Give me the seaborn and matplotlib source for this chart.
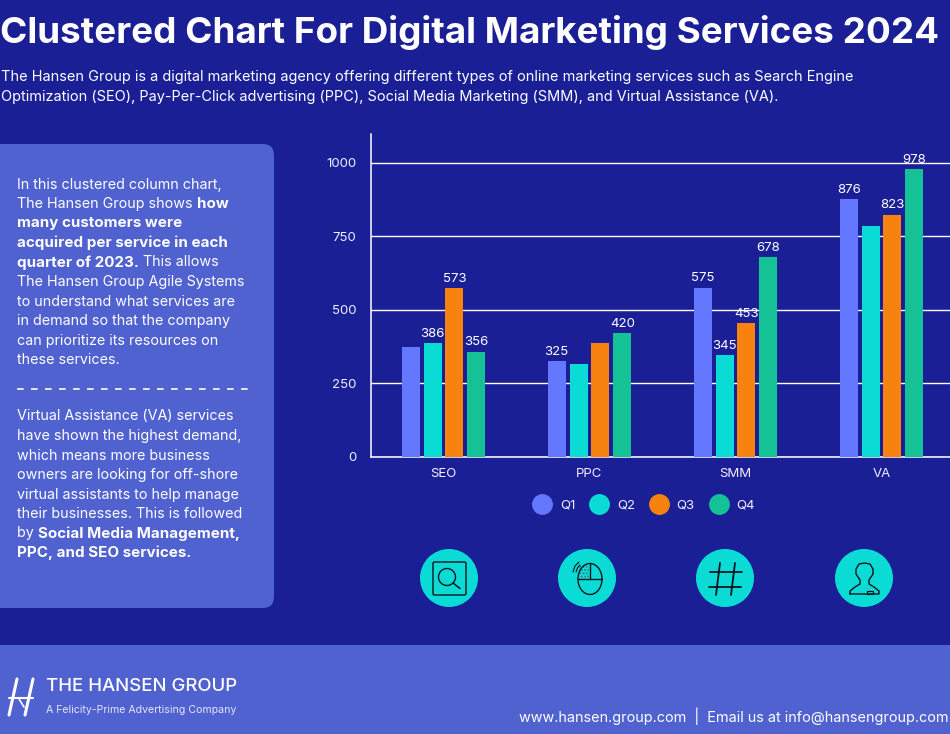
import pandas as pd
import seaborn as sns
import matplotlib
matplotlib.use('Agg')
import matplotlib.pyplot as plt
from matplotlib.lines import Line2D
from matplotlib.patches import Circle, Ellipse, FancyBboxPatch, Rectangle

# chart values (blank label = no label shown on that bar)
services = ['SEO', 'PPC', 'SMM', 'VA']
quarters = ['Q1', 'Q2', 'Q3', 'Q4']
q1 = [373, 325, 575, 876]
q2 = [386, 315, 345, 785]
q3 = [573, 388, 453, 823]
q4 = [356, 420, 678, 978]
q1_labels = ['', '325', '575', '876']
q2_labels = ['386', '', '345', '']
q3_labels = ['573', '', '453', '823']
q4_labels = ['356', '420', '678', '978']
y_ticks = [0, 250, 500, 750, 1000]

BG = '#1A1F96'
PANEL = '#5061D0'
COLORS = ['#6478FF', '#0ADCD5', '#F7820F', '#14C296']
FONT = 'Inter'

sns.set_theme(style='white')
plt.rcParams['font.family'] = [FONT, 'DejaVu Sans']

fig = plt.figure(figsize=(9.5, 7.34), dpi=100, facecolor=BG)

# overlay in pixel coordinates for the panel, footer and icons
bg = fig.add_axes([0, 0, 1, 1], zorder=0)
bg.set_xlim(0, 950)
bg.set_ylim(734, 0)
bg.axis('off')

# main chart: 0 at y=456.5, 1000 at y=163, first group centred at x=444
W, H = 950, 734
ax = fig.add_axes([370.5 / W, (H - 456.5) / H, 584 / W, 323 / H], zorder=1)
ax.patch.set_alpha(0)

df = pd.DataFrame({'service': services, 'Q1': q1, 'Q2': q2, 'Q3': q3, 'Q4': q4})
long_df = df.melt(id_vars='service', var_name='quarter', value_name='customers')
sns.barplot(data=long_df, x='service', y='customers', hue='quarter', hue_order=quarters,
            palette=COLORS, width=0.6, gap=0.18, saturation=1, legend=False, zorder=3,
            linewidth=0, ax=ax)

for bars, labels in zip(ax.containers, [q1_labels, q2_labels, q3_labels, q4_labels]):
    ax.bar_label(bars, labels=labels, color='white', fontsize=9.5, padding=2.5, zorder=5)

ax.set_xlim(-0.5, 3.5)
ax.set_ylim(0, 1100)
ax.set_yticks(y_ticks)
ax.set_xlabel('')
ax.set_ylabel('')
ax.grid(axis='y', color='#FFFFFF', linewidth=1, zorder=1)
ax.set_axisbelow(True)
ax.tick_params(axis='y', length=0, pad=10, labelsize=9.5, labelcolor='#F0F0FA')
ax.tick_params(axis='x', length=0, pad=8, labelsize=9.5, labelcolor='#F0F0FA')
sns.despine(ax=ax, top=True, right=True)
for side in ['left', 'bottom']:
    ax.spines[side].set_color('white')
    ax.spines[side].set_linewidth(1.1)

handles = [Line2D([], [], linestyle='', marker='o', markersize=14, color=c) for c in COLORS]
fig.legend(handles, quarters, ncol=4, frameon=False, loc='center', bbox_to_anchor=(642 / W, (H - 505.5) / H),
           labelcolor='#F0F0FA', fontsize=9.5, handletextpad=0.35, columnspacing=0.8)

# background blocks
bg.add_patch(FancyBboxPatch((-20, 144), 294, 464, boxstyle='round,pad=0,rounding_size=11',
                            facecolor=PANEL, edgecolor='none'))
bg.add_patch(Rectangle((0, 645), 950, 89, facecolor=PANEL, edgecolor='none'))

# header
bg.text(0.5, 32, 'Clustered Chart For Digital Marketing Services 2024', color='white', fontsize=26.5,
        fontweight='bold', va='center', ha='left')
bg.text(1, 77, 'The Hansen Group is a digital marketing agency offering different types of online marketing services such as Search Engine',
        color='white', fontsize=10.45, va='center')
bg.text(1, 97, 'Optimization (SEO), Pay-Per-Click advertising (PPC), Social Media Marketing (SMM), and Virtual Assistance (VA).',
        color='white', fontsize=10.45, va='center')


def rich_line(x, y, runs):
    # draws normal/bold pieces one after the other on the same line
    renderer = fig.canvas.get_renderer()
    for txt, bold in runs:
        t = bg.text(x, y, txt, color='white', va='center',
                    fontsize=10.9 if bold else 10.3,
                    fontweight='bold' if bold else 'normal')
        t.set_in_layout(False)
        x = t.get_window_extent(renderer).x1


top_lines = [
    [('In this clustered column chart,', False)],
    [('The Hansen Group shows ', False), ('how', True)],
    [('many customers were', True)],
    [('acquired per service in each', True)],
    [('quarter of 2023.', True), (' This allows', False)],
    [('The Hansen Group Agile Systems', False)],
    [('to understand what services are', False)],
    [('in demand so that the company', False)],
    [('can prioritize its resources on', False)],
    [('these services.', False)],
]
bottom_lines = [
    [('Virtual Assistance (VA) services', False)],
    [('have shown the highest demand,', False)],
    [('which means more business', False)],
    [('owners are looking for off-shore', False)],
    [('virtual assistants to help manage', False)],
    [('their businesses. This is followed', False)],
    [('by ', False), ('Social Media Management,', True)],
    [('PPC, and SEO services.', True)],
]
for i, line in enumerate(top_lines):
    rich_line(17, 184.5 + i * 19.5, line)
for i, line in enumerate(bottom_lines):
    rich_line(17, 416.5 + i * 19.5, line)

bg.plot([17, 249], [389, 389], color='white', linewidth=1.2, dashes=(4, 4.4))

# icons
INK = '#06131F'
for cx in [449, 587, 725, 864]:
    bg.add_patch(Circle((cx, 578), 29, facecolor=COLORS[1], edgecolor='none'))
# search
bg.add_patch(FancyBboxPatch((433, 562), 33, 33, boxstyle='round,pad=0,rounding_size=1.5',
                            facecolor='none', edgecolor=INK, linewidth=1))
bg.add_patch(Circle((447, 577), 8.5, facecolor='none', edgecolor=INK, linewidth=1))
bg.plot([453, 460], [583, 588.5], color=INK, linewidth=1.1)
# mouse
bg.add_patch(Rectangle((579, 565), 10, 14, facecolor='none', edgecolor='#3A8088', hatch='.....', linewidth=0))
bg.add_patch(Ellipse((590, 579), 24, 31, facecolor='none', edgecolor=INK, linewidth=1))
bg.plot([578, 602], [579, 579], color=INK, linewidth=1)
bg.plot([590, 590], [563.5, 579], color=INK, linewidth=1)
bg.plot([573, 575, 579], [572, 566, 562], color=INK, linewidth=0.8)
bg.plot([576, 577.5, 580], [572, 568, 565], color=INK, linewidth=0.8)
# hashtag
bg.plot([710, 742], [572, 572], color=INK, linewidth=1.3)
bg.plot([709, 741], [587, 587], color=INK, linewidth=1.3)
bg.plot([720, 716], [563, 595], color=INK, linewidth=1.3)
bg.plot([735, 731], [563, 595], color=INK, linewidth=1.3)
# person
bg.plot([850, 850, 855, 860, 860, 856, 856, 859, 864.5, 870, 873, 873, 869, 869, 874, 879, 879, 850],
        [594, 591, 587, 584, 580, 574, 569, 564, 563, 564, 569, 574, 580, 584, 587, 591, 594, 594],
        color=INK, linewidth=1)
bg.add_patch(Rectangle((867, 591), 6, 3, facecolor='none', edgecolor=INK, linewidth=0.9))

# footer
bg.plot([17, 9], [679, 715], color='white', linewidth=2.2)
bg.plot([33, 25], [679, 715], color='white', linewidth=2.2)
bg.plot([9, 33], [698, 698], color='white', linewidth=1.5)
bg.plot([19, 24], [699, 707], color='white', linewidth=1.2)
bg.text(46, 686.5, 'THE HANSEN GROUP', color='white', fontsize=13.4, fontweight='medium', va='center')
bg.text(46, 710, 'A Felicity-Prime Advertising Company', color='#E4E7FA', fontsize=7.6, va='center')
bg.text(519, 716, 'www.hansen.group.com  |  Email us at info@hansengroup.com', color='white', fontsize=10.4, va='center')

fig.savefig('out.png', dpi=100, facecolor=BG)
